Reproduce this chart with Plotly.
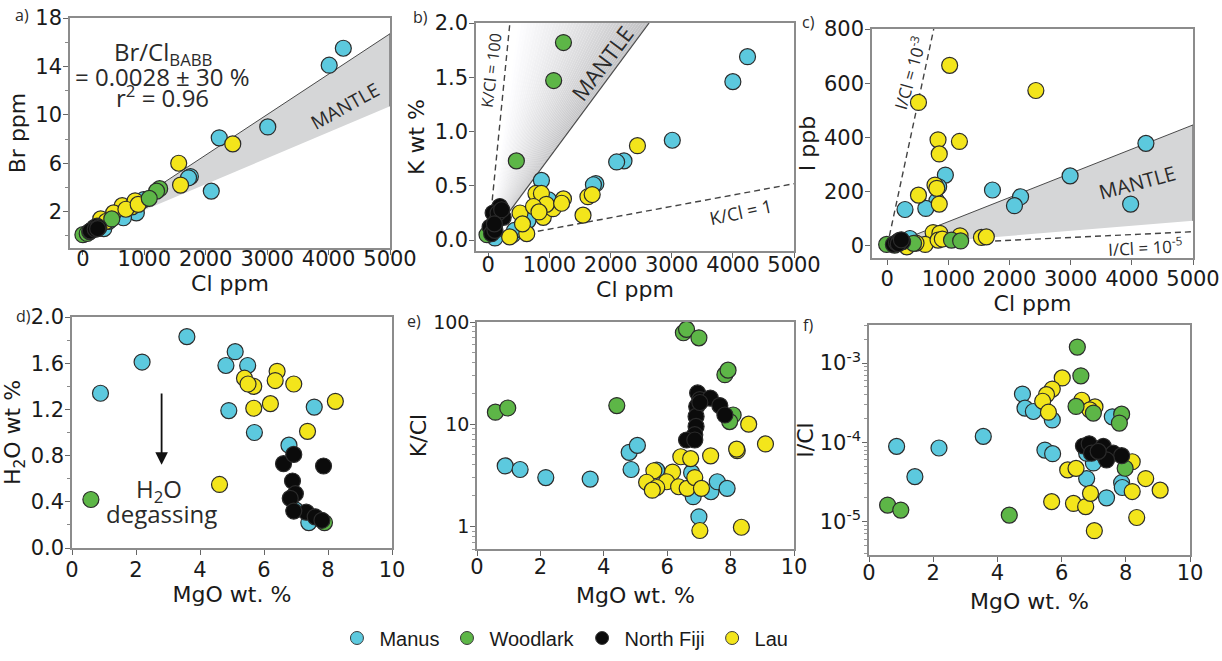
import numpy as np
import plotly.graph_objects as go

# ---------------- DATA ----------------
GROUPS = ["Manus", "Woodlark", "North Fiji", "Lau"]
COLORS = {"Manus": "#5cc9de", "Woodlark": "#5db647", "North Fiji": "#0b0b0b", "Lau": "#f3e51b"}

# Panel a: Cl ppm vs Br ppm
A_MANUS_CL = [4240, 4010, 3010, 2220, 2090, 1750, 1720, 990, 870, 660, 340, 420]
A_MANUS_BR = [15.5, 14.1, 9.0, 8.1, 3.7, 4.9, 4.8, 3.0, 1.9, 1.5, 0.6, 1.2]
A_WOOD_CL = [1250, 1200, 1080, 470, 0, 70, 110]
A_WOOD_BR = [3.9, 3.7, 3.1, 1.4, 0.1, 0.2, 0.35]
A_FIJI_CL = [150, 190, 230, 260, 120, 200, 240]
A_FIJI_BR = [0.5, 0.7, 0.8, 0.7, 0.4, 0.55, 0.6]
A_LAU_CL = [2440, 1560, 1590, 640, 800, 850, 500, 290, 700, 380, 900]
A_LAU_BR = [7.6, 6.0, 4.2, 2.5, 2.4, 2.9, 1.9, 1.4, 2.2, 1.2, 2.6]

# Panel b: Cl ppm vs K wt %
B_MANUS_CL = [4240, 4000, 3010, 2220, 2100, 1760, 1720, 870, 990, 840, 650, 400, 430, 110]
B_MANUS_K = [1.69, 1.46, 0.92, 0.73, 0.72, 0.52, 0.51, 0.55, 0.37, 0.26, 0.18, 0.05, 0.09, 0.02]
B_WOOD_CL = [1230, 1070, 460, -20]
B_WOOD_K = [1.82, 1.47, 0.73, 0.05]
B_FIJI_CL = [190, 80, 140, 30, 55, 245, 110, 160, 220, 100]
B_FIJI_K = [0.31, 0.25, 0.18, 0.12, 0.06, 0.21, 0.09, 0.25, 0.28, 0.15]
B_LAU_CL = [2440, 1230, 1630, 1550, 780, 870, 520, 630, 900, 1060, 350, 950, 740, 560, 1200, 1700, 830]
B_LAU_K = [0.87, 0.38, 0.40, 0.23, 0.43, 0.43, 0.25, 0.06, 0.21, 0.29, 0.03, 0.33, 0.31, 0.15, 0.34, 0.42, 0.26]

# Panel c: Cl ppm vs I ppb
C_MANUS_CL = [4230, 2990, 2180, 2080, 1720, 950, 840, 810, 630, 290, 3980, 370]
C_MANUS_I = [378, 258, 181, 148, 206, 261, 218, 165, 138, 134, 154, 27]
C_WOOD_CL = [-10, 430, 1050, 1200, 120]
C_WOOD_I = [5, 9, 21, 18, 2]
C_FIJI_CL = [100, 150, 200, 250, 180, 230]
C_FIJI_I = [5, 12, 20, 15, 8, 22]
C_LAU_CL = [1020, 2430, 510, 830, 850, 1180, 510, 780, 810, 850, 750, 860, 1190, 1540, 1620, 620, 320, 830, 900, 470]
C_LAU_I = [666, 573, 529, 391, 339, 385, 187, 224, 212, 154, 49, 46, 37, 31, 33, 5, -4, 21, 25, 10]

# Panel d: MgO wt % vs H2O wt %
D_MANUS_MGO = [0.89, 2.19, 3.59, 5.10, 4.81, 5.49, 4.90, 5.70, 7.57, 6.78, 6.98, 7.40]
D_MANUS_H2O = [1.34, 1.61, 1.83, 1.70, 1.58, 1.58, 1.19, 1.00, 1.22, 0.89, 0.33, 0.22]
D_WOOD_MGO = [0.59, 7.89]
D_WOOD_H2O = [0.42, 0.22]
D_FIJI_MGO = [6.61, 6.93, 7.86, 6.89, 6.98, 6.82, 7.32, 7.60, 7.81, 6.93]
D_FIJI_H2O = [0.73, 0.81, 0.71, 0.58, 0.47, 0.43, 0.31, 0.27, 0.24, 0.32]
D_LAU_MGO = [5.39, 5.68, 5.50, 6.41, 6.35, 6.93, 5.68, 6.20, 8.23, 7.36, 4.61]
D_LAU_H2O = [1.47, 1.40, 1.42, 1.53, 1.45, 1.42, 1.21, 1.25, 1.27, 1.01, 0.55]

# Panel e: MgO wt % vs K/Cl
E_MANUS_MGO = [0.89, 1.36, 2.17, 3.57, 4.80, 5.06, 4.86, 6.77, 6.82, 7.00, 7.38, 7.58, 7.89, 5.67]
E_MANUS_KCL = [3.9, 3.6, 3.0, 2.9, 5.3, 6.2, 3.6, 3.35, 1.95, 1.24, 2.18, 2.73, 2.35, 3.55]
E_WOOD_MGO = [6.51, 6.61, 7.00, 7.82, 7.92, 8.08, 7.97, 4.41, 0.58, 0.97]
E_WOOD_KCL = [78.5, 84.7, 70, 30.5, 33.8, 12.3, 10.6, 15.2, 13.1, 14.4]
E_FIJI_MGO = [6.96, 7.03, 7.36, 7.66, 7.82, 6.93, 6.91, 6.91, 6.87, 6.61, 6.87, 7.03]
E_FIJI_KCL = [20.2, 17.4, 18.0, 15.2, 12.3, 14.9, 11.9, 9.5, 7.9, 7.0, 7.0, 16.3]
E_LAU_MGO = [8.57, 9.10, 8.21, 8.19, 7.37, 6.43, 6.74, 5.58, 6.17, 5.98, 5.35, 5.67, 5.53, 6.36, 6.63, 6.87, 7.08, 7.03, 8.34]
E_LAU_KCL = [10, 6.4, 5.5, 5.7, 4.9, 4.8, 4.6, 3.5, 3.4, 2.73, 2.7, 2.4, 2.26, 2.44, 2.35, 3.0, 2.35, 0.91, 0.98]

# Panel f: MgO wt % vs I/Cl
F_MANUS_MGO = [0.86, 1.43, 2.18, 3.56, 4.78, 4.86, 5.12, 5.71, 5.48, 5.72, 6.99, 6.78, 7.40, 7.58, 7.87, 7.89, 6.78]
F_MANUS_ICL = [8.9e-5, 3.7e-5, 8.5e-5, 1.19e-4, 4.07e-4, 2.7e-4, 2.45e-4, 1.92e-4, 8.0e-5, 7.2e-5, 5.5e-5,
               3.5e-5, 2.0e-5, 2.1e-4, 3.1e-5, 2.7e-5, 7.3e-5]
F_WOOD_MGO = [6.49, 6.60, 6.45, 6.99, 7.87, 7.80, 7.98, 0.58, 0.99, 4.37]
F_WOOD_ICL = [1.59e-3, 6.9e-4, 2.84e-4, 2.34e-4, 2.27e-4, 1.75e-4, 4.72e-5, 1.62e-5, 1.4e-5, 1.21e-5]
F_FIJI_MGO = [6.68, 6.86, 6.93, 7.30, 7.35, 7.61, 7.87, 7.40, 7.14]
F_FIJI_ICL = [9.0e-5, 9.6e-5, 7.3e-5, 8.9e-5, 6.6e-5, 7.3e-5, 6.8e-5, 6.0e-5, 7.7e-5]
F_LAU_MGO = [6.02, 5.71, 5.53, 5.41, 5.59, 6.63, 7.04, 6.88, 8.20, 8.62, 9.07, 8.20, 8.34, 6.19, 6.45, 5.69,
             6.37, 6.75, 6.90, 7.02]
F_LAU_ICL = [6.5e-4, 4.7e-4, 4.0e-4, 3.3e-4, 2.4e-4, 3.4e-4, 2.8e-4, 2.57e-4, 5.7e-5, 3.5e-5, 2.5e-5, 2.4e-5,
             1.13e-5, 4.5e-5, 4.7e-5, 1.79e-5, 1.7e-5, 1.55e-5, 2.28e-5, 7.7e-6]

# reference envelopes / lines (Cl ppm, value)
A_MANTLE_X = [0, 5000, 5000]
A_MANTLE_Y = [0, 16.7, 10.7]
B_MANTLE_LINE_X = [0, 2631]
B_MANTLE_LINE_Y = [0, 2.0]
B_KCL100_X = [0, 354]
B_KCL100_Y = [0, 2.0]
B_KCL1_X = [650, 5000]
B_KCL1_Y = [0.065, 0.52]
C_MANTLE_X = [0, 5000, 5000]
C_MANTLE_Y = [0, 446, 92]
C_ICL3_X = [0, 760]
C_ICL3_Y = [0, 800]
C_ICL5_X = [1600, 5000]
C_ICL5_Y = [16, 52]

# ---------------- FIGURE ----------------
W, H = 1222, 661
FONT = "DejaVu Sans, Liberation Sans, sans-serif"
LFONT = "Liberation Sans, Arial, sans-serif"
AFONT = "Open Sans, sans-serif"
TICK_FS = 21
TITLE_FS = 22

def px(x0, x1):
    return [x0 / W, x1 / W]

def py(top, bottom):
    return [1 - bottom / H, 1 - top / H]

fig = go.Figure()

panels = {
    "a": dict(d={"Manus": (A_MANUS_CL, A_MANUS_BR), "Woodlark": (A_WOOD_CL, A_WOOD_BR),
                 "North Fiji": (A_FIJI_CL, A_FIJI_BR), "Lau": (A_LAU_CL, A_LAU_BR)}, ax=("x", "y")),
    "b": dict(d={"Manus": (B_MANUS_CL, B_MANUS_K), "Woodlark": (B_WOOD_CL, B_WOOD_K),
                 "North Fiji": (B_FIJI_CL, B_FIJI_K), "Lau": (B_LAU_CL, B_LAU_K)}, ax=("x2", "y2")),
    "c": dict(d={"Manus": (C_MANUS_CL, C_MANUS_I), "Woodlark": (C_WOOD_CL, C_WOOD_I),
                 "North Fiji": (C_FIJI_CL, C_FIJI_I), "Lau": (C_LAU_CL, C_LAU_I)}, ax=("x3", "y3")),
    "d": dict(d={"Manus": (D_MANUS_MGO, D_MANUS_H2O), "Woodlark": (D_WOOD_MGO, D_WOOD_H2O),
                 "North Fiji": (D_FIJI_MGO, D_FIJI_H2O), "Lau": (D_LAU_MGO, D_LAU_H2O)}, ax=("x4", "y4")),
    "e": dict(d={"Manus": (E_MANUS_MGO, E_MANUS_KCL), "Woodlark": (E_WOOD_MGO, E_WOOD_KCL),
                 "North Fiji": (E_FIJI_MGO, E_FIJI_KCL), "Lau": (E_LAU_MGO, E_LAU_KCL)}, ax=("x5", "y5")),
    "f": dict(d={"Manus": (F_MANUS_MGO, F_MANUS_ICL), "Woodlark": (F_WOOD_MGO, F_WOOD_ICL),
                 "North Fiji": (F_FIJI_MGO, F_FIJI_ICL), "Lau": (F_LAU_MGO, F_LAU_ICL)}, ax=("x6", "y6")),
}

BAND_FILL = "#d5d6d7"
EDGE = "#4a4a4a"

# --- background envelopes ---
fig.add_trace(go.Scatter(x=A_MANTLE_X, y=A_MANTLE_Y, xaxis="x", yaxis="y", mode="lines", fill="toself",
                         fillcolor=BAND_FILL, line=dict(color=EDGE, width=1), showlegend=False, hoverinfo="skip"))
fig.add_trace(go.Scatter(x=C_MANTLE_X, y=C_MANTLE_Y, xaxis="x3", yaxis="y3", mode="lines", fill="toself",
                         fillcolor=BAND_FILL, line=dict(color=EDGE, width=1), showlegend=False, hoverinfo="skip"))

# panel b: angular gradient wedge between K/Cl=100 line and mantle line
n_slices = 48
x_left, x_right = B_KCL100_X[1], B_MANTLE_LINE_X[1]
ytop = B_MANTLE_LINE_Y[1]
for i in range(n_slices):
    f0 = i / n_slices
    f1 = (i + 1) / n_slices
    xa = x_left + (x_right - x_left) * f0
    xb = x_left + (x_right - x_left) * f1
    fm = (f0 + f1) / 2
    t = max(0.0, (fm - 0.05) / 0.95)
    g = int(round(255 - 62 * t))
    col = f"rgb({g},{g},{min(255, g + 2)})"
    fig.add_trace(go.Scatter(x=[0, xa, xb, 0], y=[0, ytop, ytop, 0], xaxis="x2", yaxis="y2", mode="none",
                             fill="toself", fillcolor=col, showlegend=False, hoverinfo="skip"))
fig.add_trace(go.Scatter(x=B_MANTLE_LINE_X, y=B_MANTLE_LINE_Y, xaxis="x2", yaxis="y2", mode="lines",
                         line=dict(color=EDGE, width=1.2), showlegend=False, hoverinfo="skip"))
for (lx, ly, xa_, ya_) in [(B_KCL100_X, B_KCL100_Y, "x2", "y2"), (B_KCL1_X, B_KCL1_Y, "x2", "y2"),
                           (C_ICL3_X, C_ICL3_Y, "x3", "y3"), (C_ICL5_X, C_ICL5_Y, "x3", "y3")]:
    fig.add_trace(go.Scatter(x=lx, y=ly, xaxis=xa_, yaxis=ya_, mode="lines",
                             line=dict(color="#444", width=1.4, dash="6px,4px"), showlegend=False, hoverinfo="skip"))

# --- scatter points ---
draw_order = ["Manus", "Lau", "Woodlark", "North Fiji"]
legend_rank = {"Manus": 1, "Woodlark": 2, "North Fiji": 3, "Lau": 4}
for key, p in panels.items():
    xa, ya = p["ax"]
    for g in draw_order:
        xs, ys = p["d"][g]
        fig.add_trace(go.Scatter(
            x=xs, y=ys, xaxis=xa, yaxis=ya, mode="markers", name=g,
            marker=dict(size=16, color=COLORS[g], line=dict(color="#2b2b2b", width=1.2)),
            showlegend=False, hoverinfo="skip"))

# legend entries (marker-only, no data)
for g in GROUPS:
    fig.add_trace(go.Scatter(x=[None], y=[None], xaxis="x", yaxis="y", mode="markers", name=g,
                             marker=dict(size=13, color=COLORS[g], line=dict(color="#3a3a3a", width=1)),
                             showlegend=True, legendrank=legend_rank[g], hoverinfo="skip"))

# ---------------- AXES ----------------
def axis_common(standoff, tick_fs=TICK_FS):
    return dict(showline=True, linecolor="#8c8c8c", linewidth=1.5, mirror=True, ticks="outside",
                ticklen=5, tickwidth=1.2, tickcolor="#666", showgrid=False, zeroline=False, automargin=False,
                ticklabelstandoff=standoff,
                tickfont=dict(family=FONT, size=tick_fs, color="#1a1a1a"),
                title_font=dict(family=FONT, size=TITLE_FS, color="#1a1a1a"))

layout = dict(width=W, height=H, margin=dict(l=0, r=0, t=0, b=0), paper_bgcolor="white",
              plot_bgcolor="white", font=dict(family=FONT, color="#1a1a1a"))

CL_TICKS = [0, 1000, 2000, 3000, 4000, 5000]
MGO_TICKS = [0, 2, 4, 6, 8, 10]

# a
layout["xaxis"] = dict(axis_common(-14), domain=px(70, 390), range=[-210, 5000], tickvals=CL_TICKS,
                       anchor="y", title=dict(text="Cl ppm", standoff=0))
layout["yaxis"] = dict(axis_common(-3), domain=py(18, 248), range=[-1, 18], tickvals=[2, 6, 10, 14, 18], anchor="x",
                       title=dict(text="Br ppm", standoff=4),
                       minor=dict(tickvals=[0, 4, 8, 12, 16], ticks="outside", ticklen=3, tickcolor="#888"))
# b
layout["xaxis2"] = dict(axis_common(-11), domain=px(476, 794), range=[-200, 5000], tickvals=CL_TICKS,
                        anchor="y2", title=dict(text="Cl ppm", standoff=0))
layout["yaxis2"] = dict(axis_common(-3), domain=py(23, 251), range=[-0.1, 2.0], tickvals=[0, 0.5, 1.0, 1.5, 2.0],
                        tickformat=".1f", anchor="x2", title=dict(text="K wt %", standoff=4))
# c
layout["xaxis3"] = dict(axis_common(-4), domain=px(872, 1193), range=[-250, 5000], tickvals=CL_TICKS,
                        anchor="y3", title=dict(text="Cl ppm", standoff=0))
layout["yaxis3"] = dict(axis_common(-3), domain=py(29, 258), range=[-45, 800], tickvals=[0, 200, 400, 600, 800],
                        anchor="x3", title=dict(text="I ppb", standoff=2))
# d
layout["xaxis4"] = dict(axis_common(-3), domain=px(72, 392), range=[0, 10], tickvals=MGO_TICKS,
                        anchor="y4", title=dict(text="MgO wt. %", standoff=1))
layout["yaxis4"] = dict(axis_common(-3), domain=py(317, 548), range=[0, 2.0], tickvals=[0, 0.4, 0.8, 1.2, 1.6, 2.0],
                        tickformat=".1f", anchor="x4", title=dict(text="H<sub>2</sub>O wt %", standoff=4),
                        minor=dict(tickvals=[0.2, 0.6, 1.0, 1.4, 1.8], ticks="outside", ticklen=3, tickcolor="#888"))
# e
minor_e = [m * 10 ** k for k in range(-1, 2) for m in range(2, 10) if 0.6 <= m * 10 ** k <= 100]
layout["xaxis5"] = dict(axis_common(-7), domain=px(477, 794), range=[0, 10], tickvals=MGO_TICKS,
                        anchor="y5", title=dict(text="MgO wt. %", standoff=10))
layout["yaxis5"] = dict(axis_common(-3, 19), domain=py(322, 549), type="log", range=[np.log10(0.6), 2.0],
                        tickvals=[1, 10, 100], ticktext=["1", "10", "100"], anchor="x5",
                        title=dict(text="K/Cl", standoff=0),
                        minor=dict(tickvals=minor_e, ticks="outside", ticklen=3, tickcolor="#999"))
# f
minor_f = [m * 10.0 ** k for k in range(-6, -2) for m in range(2, 10) if 3.8e-6 <= m * 10.0 ** k <= 3e-3]
layout["xaxis6"] = dict(axis_common(-7), domain=px(869, 1190), range=[0, 10], tickvals=MGO_TICKS,
                        anchor="y6", title=dict(text="MgO wt. %", standoff=10))
layout["yaxis6"] = dict(axis_common(-3), domain=py(325, 555), type="log", range=[-5.42, -2.52],
                        tickvals=[1e-5, 1e-4, 1e-3],
                        ticktext=["10<sup>-5</sup>", "10<sup>-4</sup>", "10<sup>-3</sup>"], anchor="x6",
                        title=dict(text="I/Cl", standoff=0),
                        minor=dict(tickvals=minor_f, ticks="outside", ticklen=3, tickcolor="#999"))

layout["legend"] = dict(orientation="h", x=0.4615, xanchor="center", y=1 - 638 / H, yanchor="middle",
                        font=dict(family=LFONT, size=20, color="#1a1a1a"), bgcolor="rgba(0,0,0,0)",
                        traceorder="normal", itemwidth=35)
fig.update_layout(**layout)

# ---------------- ANNOTATIONS ----------------
ann = []
def txt(x, y, text, xref, yref, size, angle=0, color="#2a2a2a", family=AFONT):
    ann.append(dict(x=x, y=y, xref=xref, yref=yref, text=text, showarrow=False, textangle=angle,
                    font=dict(family=family, size=size, color=color), xanchor="center", yanchor="middle"))

# panel letters
for lab, (lx, ly) in {"a)": (22, 15), "b)": (420, 17), "c)": (808, 22),
                      "d)": (23, 316), "e)": (414, 321), "f)": (808, 325)}.items():
    txt(lx / W, 1 - ly / H, lab, "paper", "paper", 16)

# panel a
txt(1300, 15.1, "Br/Cl<sub>BABB</sub>", "x", "y", 24)
txt(1300, 13.2, "= 0.0028 ± 30 %", "x", "y", 24)
txt(1300, 11.5, "r<sup>2</sup> = 0.96", "x", "y", 24)
txt(4270, 10.7, "MANTLE", "x", "y", 19, angle=-29)
# panel b
txt(1860, 1.63, "MANTLE", "x2", "y2", 22, angle=-53)
txt(45, 1.57, "K/Cl = 100", "x2", "y2", 16, angle=-83)
txt(4117, 0.26, "K/Cl = 1", "x2", "y2", 18, angle=-12)
# panel c
txt(4084, 235, "MANTLE", "x3", "y3", 20, angle=-15)
txt(355, 641, "I/Cl = 10<sup>-3</sup>", "x3", "y3", 17, angle=-74)
txt(4230, -4, "I/Cl = 10<sup>-5</sup>", "x3", "y3", 17, angle=-3)
# panel d
ann.append(dict(x=2.8, y=0.72, ax=2.8, ay=1.35, xref="x4", yref="y4", axref="x4", ayref="y4", showarrow=True,
                arrowhead=2, arrowsize=1.4, arrowwidth=1.8, arrowcolor="#111", text=""))
txt(2.72, 0.50, "H<sub>2</sub>O", "x4", "y4", 24)
txt(2.79, 0.30, "degassing", "x4", "y4", 24)

fig.update_layout(annotations=ann)
fig.write_html("out.html")
